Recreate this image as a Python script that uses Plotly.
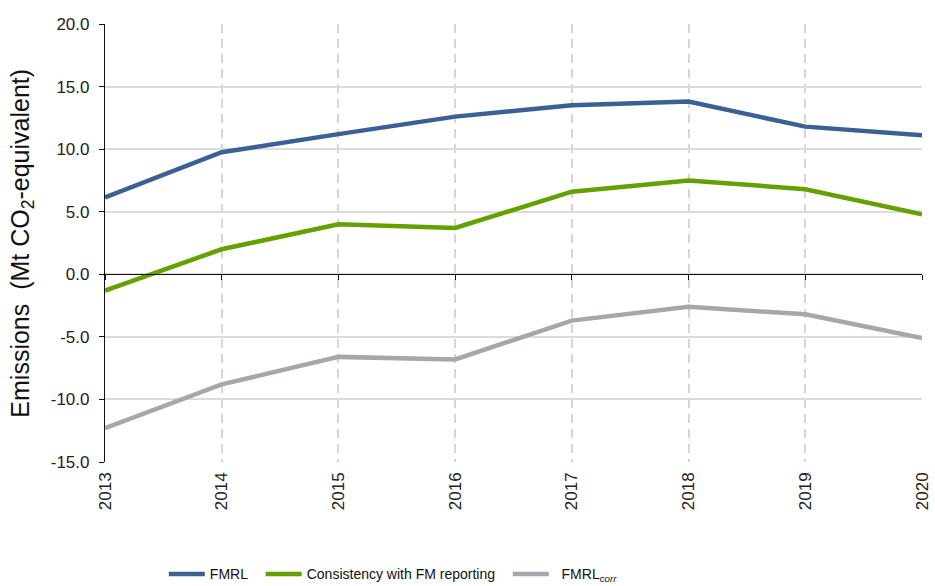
import plotly.graph_objects as go

years = [2013, 2014, 2015, 2016, 2017, 2018, 2019, 2020]
fmrl = [6.15, 9.75, 11.2, 12.6, 13.5, 13.8, 11.8, 11.1]
consistency = [-1.3, 2.0, 4.0, 3.7, 6.6, 7.5, 6.8, 4.8]
fmrl_corr = [-12.3, -8.8, -6.6, -6.8, -3.7, -2.6, -3.2, -5.1]

y_ticks = [20, 15, 10, 5, 0, -5, -10, -15]
y_tick_text = ["20.0", "15.0", "10.0", "5.0", "0.0", "-5.0", "-10.0", "-15.0"]
y_range = [-15, 20]

NB = "\u00a0"
fig = go.Figure()
series = [
    ("FMRL" + NB * 2, fmrl, "#3b6194"),
    ("Consistency with FM reporting" + NB * 2, consistency, "#66a000"),
    (NB * 2 + "FMRL<sub><i>corr</i></sub>", fmrl_corr, "#a5a7ad"),
]
for name, vals, color in series:
    fig.add_trace(go.Scatter(x=years, y=vals, mode="lines", name=name,
                             line=dict(color=color, width=4.5)))

# invisible trace on the secondary x axis that sits on the zero line
fig.add_trace(go.Scatter(x=years, y=[0] * len(years), xaxis="x2", mode="lines",
                         line=dict(width=0), showlegend=False, hoverinfo="skip"))

zero_pos = (0 - y_range[0]) / (y_range[1] - y_range[0])

fig.update_layout(
    width=935, height=586,
    margin=dict(l=105, r=13, t=24, b=124, autoexpand=False),
    paper_bgcolor="white", plot_bgcolor="white",
    font=dict(family="Liberation Sans, Arial, sans-serif", color="#222", size=14),
    showlegend=True,
    legend=dict(orientation="h", x=0.072, xanchor="left", y=-0.22, yanchor="top",
                font=dict(family="Liberation Sans Narrow, Arial Narrow, Liberation Sans, sans-serif",
                          size=14, color="#111"),
                itemwidth=36, tracegroupgap=0),
    xaxis=dict(range=[2013, 2020], tickvals=years, ticktext=[str(y) for y in years],
               tickangle=-90, showgrid=True, gridcolor="#d6d6d6", griddash="9px,6px",
               gridwidth=2, showline=False, zeroline=False, ticks="",
               ticklabelstandoff=6,
               automargin=False, tickfont=dict(size=17, color="#222")),
    xaxis2=dict(range=[2013, 2020], overlaying="x", anchor="free", position=zero_pos,
                side="bottom", tickvals=years, showticklabels=False, ticks="outside",
                ticklen=5, tickcolor="#111", showline=True, linecolor="#111",
                linewidth=1.2, showgrid=False, zeroline=False),
    yaxis=dict(range=y_range, tickvals=y_ticks, ticktext=y_tick_text,
               showgrid=True, gridcolor="#dcdcdc", gridwidth=1.5,
               zeroline=False, showline=True, linecolor="#111", linewidth=1.2,
               ticks="outside", ticklen=5, tickcolor="#111", automargin=False,
               ticklabelstandoff=6,
               tickfont=dict(size=17, color="#222")),
    annotations=[dict(text="Emissions  (Mt CO<sub>2</sub>-equivalent)",
                      xref="paper", yref="paper", x=-0.102, y=0.5,
                      xanchor="center", yanchor="middle", textangle=-90,
                      showarrow=False, font=dict(size=25, color="#111"))],
)

fig.write_html("out.html")
